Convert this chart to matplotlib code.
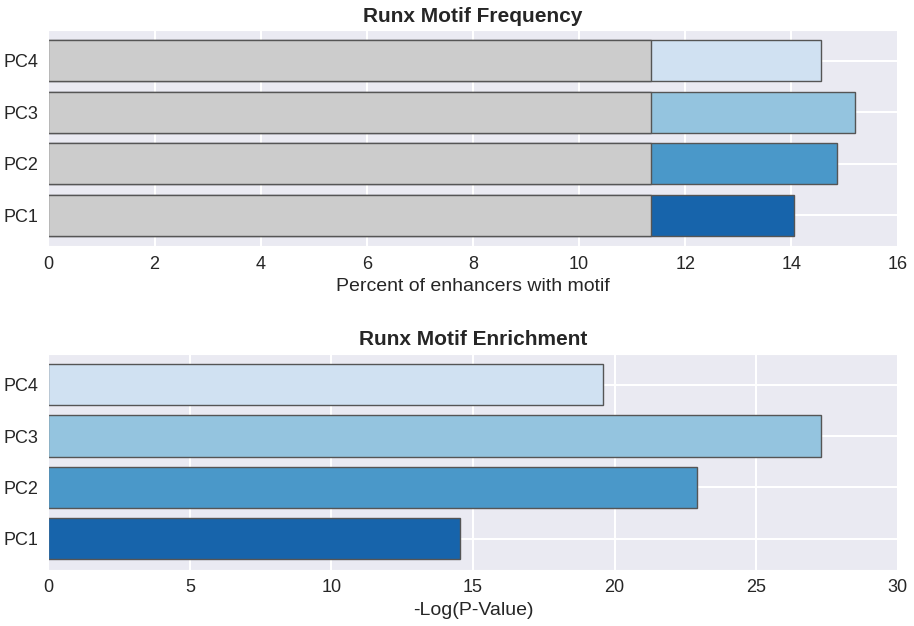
import matplotlib
matplotlib.use("Agg")
import matplotlib.pyplot as plt
import seaborn as sns

sns.set_style("darkgrid")
plt.rcParams['font.family'] = ['Liberation Sans', 'DejaVu Sans']

labels = ['PC1', 'PC2', 'PC3', 'PC4']
colors = ['#1764ab', '#4a98c9', '#94c4df', '#d0e1f2']
freq = [14.05, 14.85, 15.2, 14.55]
background = [11.35, 11.35, 11.35, 11.35]
neglogp = [14.55, 22.9, 27.3, 19.6]

fig, (ax1, ax2) = plt.subplots(2, 1, figsize=(9.14, 6.26), dpi=100)
fig.subplots_adjust(left=0.053, right=0.982, top=0.952, bottom=0.09, hspace=0.5)

y = range(len(labels))
ax1.barh(y, freq, height=0.8, color=colors, edgecolor='#555555', linewidth=1)
ax1.barh(y, background, height=0.8, color='#cccccc', edgecolor='#555555', linewidth=1)
ax1.set_xlim(0, 16)
ax1.set_ylim(-0.6, 3.6)
ax1.set_yticks(list(y))
ax1.set_yticklabels(labels)
ax1.set_xlabel('Percent of enhancers with motif', fontsize=14)
ax1.set_title('Runx Motif Frequency', fontsize=15, fontweight='bold')

ax2.barh(y, neglogp, height=0.8, color=colors, edgecolor='#555555', linewidth=1)
ax2.set_xlim(0, 30)
ax2.set_ylim(-0.6, 3.6)
ax2.set_yticks(list(y))
ax2.set_yticklabels(labels)
ax2.set_xlabel('-Log(P-Value)', fontsize=14)
ax2.set_title('Runx Motif Enrichment', fontsize=15, fontweight='bold')

for ax in (ax1, ax2):
    ax.tick_params(labelsize=13)
    ax.grid(color='white', linewidth=1.5)

fig.savefig('out.png', dpi=100)
